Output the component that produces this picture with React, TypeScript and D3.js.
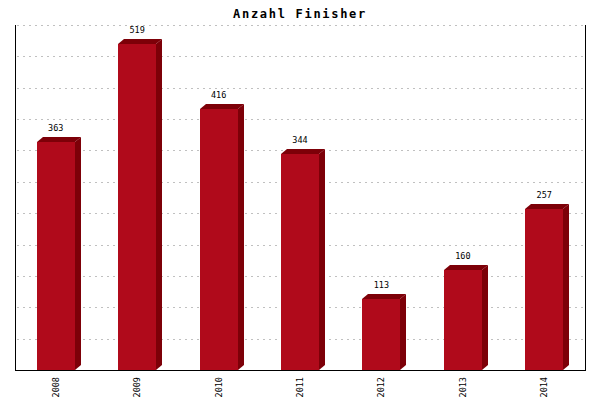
import React from "react";
import * as d3 from "d3";

const years = ["2008", "2009", "2010", "2011", "2012", "2013", "2014"];
const finishers = [363, 519, 416, 344, 113, 160, 257];
const gridValues = [50, 100, 150, 200, 250, 300, 350, 400, 450, 500, 550];
const title = "Anzahl Finisher";

const W = 600;
const H = 400;
const left = 15;
const right = 585;
const top = 25;
const bottom = 370;
const dx = 6;
const dy = 5;
const front = "#b00a1b";
const dark = "#7d0008";
const mono = "'DejaVu Sans Mono', 'Liberation Mono', monospace";

export default function App() {
  const x = d3.scaleBand<string>().domain(years).range([left, right]).paddingInner(0).paddingOuter(0);
  const y = d3.scaleLinear().domain([0, 550]).range([bottom, top]);
  const bw = 38;

  return (
    <svg
      width={W}
      height={H}
      style={{ position: "absolute", left: 0, top: 0, background: "#fff" }}
      shapeRendering="crispEdges"
    >
      <text
        x={300}
        y={18}
        textAnchor="middle"
        fontFamily={mono}
        fontSize={12}
        fontWeight="bold"
        letterSpacing={1.7}
      >
        {title}
      </text>
      {gridValues.map((v) => (
        <line
          key={v}
          x1={left + 2}
          x2={right - 2}
          y1={Math.round(y(v)) + 0.5}
          y2={Math.round(y(v)) + 0.5}
          stroke="#c0c0c0"
          strokeDasharray="2,4"
        />
      ))}
      {years.map((yr, i) => {
        const cx = (x(yr) as number) + x.bandwidth() / 2;
        const x0 = Math.round(cx - bw / 2);
        const x1 = x0 + bw;
        const yt = Math.round(y(finishers[i]));
        const yb = bottom;
        return (
          <g key={yr}>
            <polygon
              points={`${x1},${yt} ${x1 + dx},${yt - dy} ${x1 + dx},${yb - dy} ${x1},${yb}`}
              fill={dark}
              shapeRendering="auto"
            />
            <polygon
              points={`${x0},${yt} ${x0 + dx},${yt - dy} ${x1 + dx},${yt - dy} ${x1},${yt}`}
              fill={dark}
              shapeRendering="auto"
            />
            <rect x={x0} y={yt} width={bw} height={yb - yt} fill={front} />
            <text
              x={cx}
              y={yt - dy - 6}
              textAnchor="middle"
              fontFamily={mono}
              fontSize={8.5}
            >
              {finishers[i]}
            </text>
            <text
              transform={`translate(${cx + 3},${bottom + 7}) rotate(-90)`}
              textAnchor="end"
              fontFamily={mono}
              fontSize={8.5}
            >
              {yr}
            </text>
          </g>
        );
      })}
      <line x1={left + 0.5} x2={left + 0.5} y1={top} y2={bottom} stroke="#000" />
      <line x1={right + 0.5} x2={right + 0.5} y1={top} y2={bottom} stroke="#000" />
      <line x1={left} x2={right + 1} y1={bottom + 0.5} y2={bottom + 0.5} stroke="#000" />
    </svg>
  );
}
